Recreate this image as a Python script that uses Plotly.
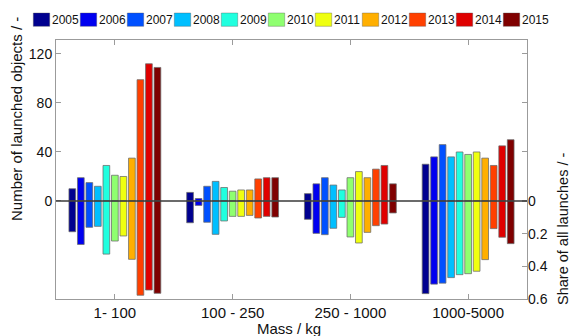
import plotly.graph_objects as go

# ---- data ----
categories = ["1- 100", "100 - 250", "250 - 1000", "1000-5000"]
years = ["2005", "2006", "2007", "2008", "2009", "2010", "2011", "2012", "2013", "2014", "2015"]

# number of launched objects per mass class, one list per year (order = categories)
counts = {
    "2005": [10, 7, 6, 30],
    "2006": [19, 2, 14, 36],
    "2007": [15, 12, 19, 46],
    "2008": [12, 16, 13, 36],
    "2009": [29, 11, 9, 40],
    "2010": [21, 8, 19, 38],
    "2011": [20, 9, 24, 40],
    "2012": [35, 9, 19, 35],
    "2013": [99, 18, 26, 29],
    "2014": [112, 19, 29, 45],
    "2015": [109, 19, 14, 50],
}
# share of all launches per mass class (drawn downward)
shares = {
    "2005": [0.188, 0.133, 0.112, 0.567],
    "2006": [0.266, 0.027, 0.198, 0.509],
    "2007": [0.161, 0.130, 0.206, 0.503],
    "2008": [0.155, 0.204, 0.167, 0.469],
    "2009": [0.325, 0.122, 0.100, 0.451],
    "2010": [0.245, 0.094, 0.220, 0.445],
    "2011": [0.214, 0.094, 0.257, 0.430],
    "2012": [0.357, 0.088, 0.192, 0.359],
    "2013": [0.577, 0.104, 0.151, 0.169],
    "2014": [0.545, 0.094, 0.141, 0.222],
    "2015": [0.565, 0.098, 0.073, 0.261],
}
count_ticks = [0, 40, 80, 120]
share_ticks = [0, 0.2, 0.4, 0.6]
share_ticktext = ["0", "0.2", "0.4", "0.6"]

colors = ["#00008F", "#0000F0", "#0050FF", "#00BFFF", "#20FFDF", "#8FFF70",
          "#EFFF10", "#FFAF00", "#FF4000", "#DF0000", "#7F0000"]

# ---- layout geometry (pixels) ----
W, H = 571, 336
L, R, T, B = 56, 527, 40, 299
FONT = "Liberation Sans, Arial, Helvetica, sans-serif"


def px_x(x):
    return (x - L) / (R - L)


def px_y(y):
    return (B - y) / (B - T)


pitch = 0.0723
bw = 0.057
edge = dict(color="rgba(105,105,105,0.75)", width=1)

fig = go.Figure()
n = len(years)
for i, yr in enumerate(years):
    off = (i - (n - 1) / 2) * pitch - bw / 2
    fig.add_trace(go.Bar(x=categories, y=counts[yr], base=0, width=bw, offset=off,
                         marker=dict(color=colors[i], line=edge), name=yr,
                         showlegend=False, yaxis="y"))
    fig.add_trace(go.Bar(x=categories, y=shares[yr], base=0, width=bw, offset=off,
                         marker=dict(color=colors[i], line=edge), name=yr,
                         showlegend=False, yaxis="y2"))

axis_gray = "#9b9b9b"
tickfont = dict(family=FONT, size=14, color="#111")

shapes = [dict(type="line", xref="paper", yref="y", x0=0, x1=1, y0=0, y1=0,
               line=dict(color="#3a3a3a", width=1.4), layer="above")]
annotations = []
# manual legend
for i, yr in enumerate(years):
    x0 = 33.3 + 47 * i
    shapes.append(dict(type="rect", xref="paper", yref="paper",
                       x0=px_x(x0), x1=px_x(x0 + 16.4), y0=px_y(26.3), y1=px_y(13),
                       fillcolor=colors[i], line=dict(color="rgba(80,80,80,0.6)", width=0.6)))
    annotations.append(dict(text=yr, xref="paper", yref="paper", x=px_x(x0 + 16.9),
                            y=px_y(19.8), xanchor="left", yanchor="middle", showarrow=False,
                            font=dict(family=FONT, size=12, color="#111")))

annotations += [
    dict(text="Number of launched objects / -", xref="paper", yref="paper",
         x=px_x(17), y=px_y(119), textangle=-90, showarrow=False,
         xanchor="center", yanchor="middle", font=dict(family=FONT, size=15, color="#111")),
    dict(text="Share of all launches / -", xref="paper", yref="paper",
         x=px_x(563), y=px_y(229), textangle=-90, showarrow=False,
         xanchor="center", yanchor="middle", font=dict(family=FONT, size=14.5, color="#111")),
    dict(text="Mass / kg", xref="paper", yref="paper",
         x=px_x(289), y=px_y(328), showarrow=False,
         xanchor="center", yanchor="middle", font=dict(family=FONT, size=15, color="#111")),
]

fig.update_layout(
    width=W, height=H,
    margin=dict(l=L, r=W - R, t=T, b=H - B, pad=0),
    paper_bgcolor="white", plot_bgcolor="white",
    barmode="overlay",
    showlegend=False,
    font=dict(family=FONT, size=14, color="#111"),
    xaxis=dict(type="category", range=[-0.5, 3.5], showline=True, linecolor=axis_gray,
               linewidth=1, mirror="ticks", ticks="inside", ticklen=5, tickcolor=axis_gray,
               showgrid=False, zeroline=False, tickfont=dict(family=FONT, size=15, color="#111")),
    yaxis=dict(range=[-80, 131.4], tickvals=count_ticks, showline=True, linecolor=axis_gray,
               linewidth=1, mirror="ticks", ticks="inside", ticklen=5, tickcolor=axis_gray,
               showgrid=False, zeroline=False, tickfont=tickfont),
    yaxis2=dict(overlaying="y", side="right", range=[0.6, -0.986], tickvals=share_ticks,
                ticktext=share_ticktext, ticks="inside", ticklen=5, tickcolor=axis_gray,
                showline=False, showgrid=False, zeroline=False, tickfont=tickfont),
    shapes=shapes,
    annotations=annotations,
)

fig.write_html("out.html")
